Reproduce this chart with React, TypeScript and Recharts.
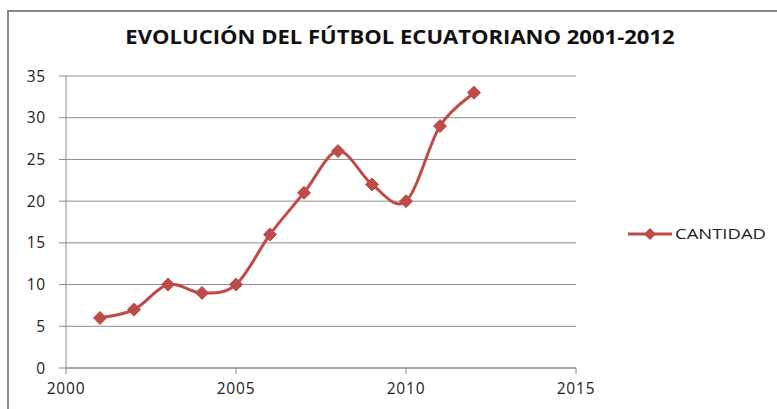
import { LineChart, Line, XAxis, YAxis, CartesianGrid, Legend } from 'recharts';

const years = [2001, 2002, 2003, 2004, 2005, 2006, 2007, 2008, 2009, 2010, 2011, 2012];
const cantidad = [6, 7, 10, 9, 10, 16, 21, 26, 22, 20, 29, 33];
const xTicks = [2000, 2005, 2010, 2015];
const yTicks = [0, 5, 10, 15, 20, 25, 30, 35];

const data = years.map((year, i) => ({ year, cantidad: cantidad[i] }));

const RED = '#BE4B48';
const GRID = '#8c8c8c';
const FONT = '"Open Sans", "Noto Sans", sans-serif';

// smoothed line like the spreadsheet one (catmull-rom style bezier)
const smoothCurve = (context: any) => {
  let pts: number[][] = [];
  return {
    areaStart() {},
    areaEnd() {},
    lineStart() {
      pts = [];
    },
    point(x: number, y: number) {
      pts.push([+x, +y]);
    },
    lineEnd() {
      if (!pts.length) return;
      context.moveTo(pts[0][0], pts[0][1]);
      for (let i = 0; i < pts.length - 1; i++) {
        const p0 = pts[i - 1] || pts[i];
        const p1 = pts[i];
        const p2 = pts[i + 1];
        const p3 = pts[i + 2] || p2;
        context.bezierCurveTo(
          p1[0] + (p2[0] - p0[0]) / 6,
          p1[1] + (p2[1] - p0[1]) / 6,
          p2[0] - (p3[0] - p1[0]) / 6,
          p2[1] - (p3[1] - p1[1]) / 6,
          p2[0],
          p2[1]
        );
      }
    },
  };
};

const Diamond = (props: any) => {
  const { cx, cy } = props;
  if (cx == null || cy == null) return null;
  const r = 6.5;
  return (
    <path
      key={`d-${cx}`}
      d={`M${cx},${cy - r}L${cx + r},${cy}L${cx},${cy + r}L${cx - r},${cy}Z`}
      fill={RED}
      stroke={RED}
    />
  );
};

const LegendContent = () => (
  <svg width={150} height={20}>
    <line x1={0} y1={10} x2={44} y2={10} stroke={RED} strokeWidth={3} />
    <path d="M22,4L28,10L22,16L16,10Z" fill={RED} />
    <text x={47} y={15} fontFamily={FONT} fontSize={15} fill="#222" textLength={91} lengthAdjust="spacingAndGlyphs">
      CANTIDAD
    </text>
  </svg>
);

const tickStyle = { fill: '#222', fontSize: 15.5, fontFamily: FONT, letterSpacing: 0.8 };

export default function App() {
  return (
    <div style={{ position: 'fixed', left: 0, top: 0, width: 777, height: 409, overflow: 'hidden', background: '#fff' }}>
      <div
        style={{
          position: 'absolute',
          left: 7,
          top: 10,
          width: 820,
          height: 440,
          border: '2px solid #8a8a8a',
        }}
      />
      <div
        style={{
          position: 'absolute',
          left: 0,
          top: 23,
          width: 800,
          textAlign: 'center',
          fontFamily: FONT,
          fontWeight: 700,
          fontSize: 19.5,
          color: '#111',
          transform: 'scaleX(1.13)',
          transformOrigin: '400px 0',
        }}
      >
        EVOLUCIÓN DEL FÚTBOL ECUATORIANO 2001-2012
      </div>
      <div style={{ position: 'absolute', left: 0, top: 0 }}>
        <LineChart width={777} height={409} data={data} margin={{ top: 76, right: 201, bottom: 11, left: 6 }}>
          <CartesianGrid vertical={false} stroke={GRID} strokeWidth={1} />
          <XAxis
            dataKey="year"
            type="number"
            domain={[2000, 2015]}
            ticks={xTicks}
            stroke={GRID}
            tickSize={6}
            tickMargin={9}
            tick={tickStyle}
          />
          <YAxis
            type="number"
            domain={[0, 35]}
            ticks={yTicks}
            width={60}
            stroke={GRID}
            tickSize={7}
            tickMargin={13}
            tick={tickStyle}
          />
          <Legend
            layout="horizontal"
            verticalAlign="middle"
            align="center"
            wrapperStyle={{ left: 628, top: 224, width: 150, height: 20 }}
            content={<LegendContent />}
          />
          <Line
            dataKey="cantidad"
            name="CANTIDAD"
            type={smoothCurve as any}
            stroke={RED}
            strokeWidth={3}
            dot={<Diamond />}
            activeDot={false}
            isAnimationActive={false}
          />
        </LineChart>
      </div>
    </div>
  );
}
